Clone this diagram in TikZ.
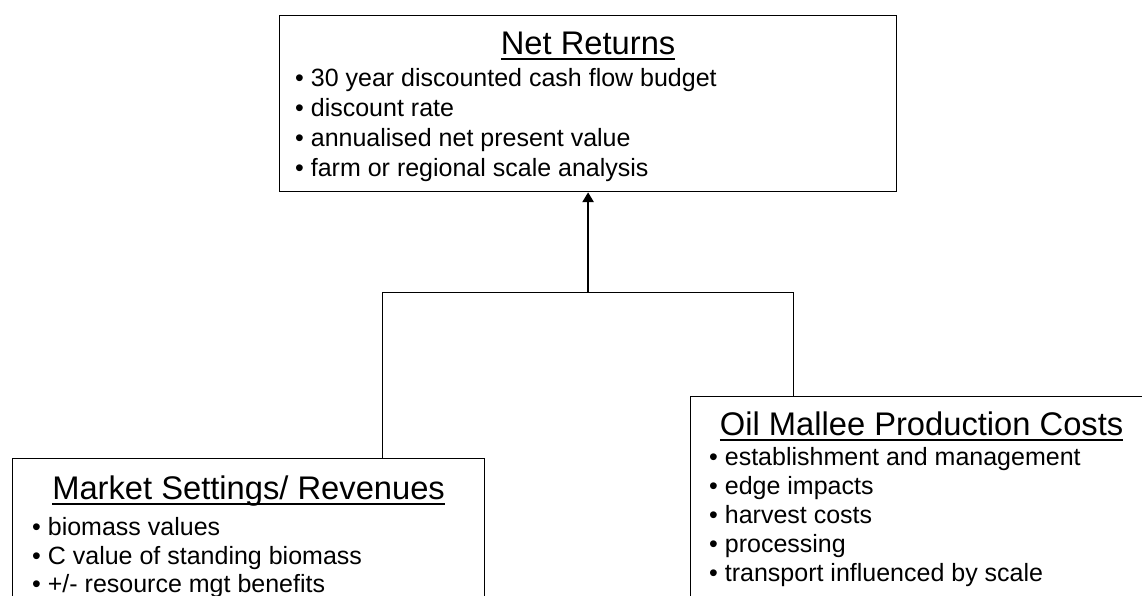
\documentclass[tikz,border=0pt]{standalone}
\usepackage{fontspec}
\setmainfont{Liberation Sans}
\usetikzlibrary{positioning,arrows.meta}

\newcommand{\ulhead}[1]{\setbox0\hbox{#1}\rlap{\rule[-5pt]{\wd0}{2pt}}\box0}

\begin{document}
\begin{tikzpicture}[x=1pt,y=1pt,
    panel/.style={draw,line width=1.2pt,rectangle,inner sep=0pt,anchor=north west},
    head/.style={anchor=base,inner sep=0pt,font=\fontsize{32.7}{39}\selectfont},
    item/.style={anchor=base west,inner sep=0pt,font=\fontsize{25}{30}\selectfont}]
   \useasboundingbox (0,0) rectangle (1142,596);
   \clip (0,0) rectangle (1142,596);
   \node [panel, minimum width=617pt, minimum height=176pt] (net) at (279,581) {};
   \node [panel, minimum width=472pt, minimum height=160pt] (market) at (12,138) {};
   \node [panel, minimum width=462pt, minimum height=220pt] (cost) at (690,200) {};
   \node [head] (netHead) at ([yshift=-40pt]net.north) {\ulhead{Net Returns}};
   \node [head] (marketHead) at ([yshift=-42pt]market.north) {\ulhead{Market Settings/ Revenues}};
   \node [head] (costHead) at ([yshift=-40pt]cost.north) {\ulhead{Oil Mallee Production Costs}};
   \foreach \txt [count=\i] in {30 year discounted cash flow budget, discount rate,
       annualised net present value, farm or regional scale analysis}
      \node [item] (net\i) at ([xshift=16pt,yshift=-42pt-30pt*\i]net.north west) {• \txt};
   \foreach \txt [count=\i] in {biomass values, C value of standing biomass,
       +/- resource mgt benefits}
      \node [item] (market\i) at ([xshift=20pt,yshift=-49.5pt-28.5pt*\i]market.north west) {• \txt};
   \foreach \txt [count=\i] in {establishment and management, edge impacts,
       harvest costs, processing, transport influenced by scale}
      \node [item] (cost\i) at ([xshift=19pt,yshift=-41pt-29pt*\i]cost.north west) {• \txt};
   \coordinate (forkL) at (382,303);
   \coordinate (forkR) at (793,303);
   \draw [line width=1pt] (forkL |- market.north) -- (forkL) -- (forkR) -- (forkR |- cost.north);
   \draw [line width=2.7pt, -{Triangle[width=11pt,length=10pt]}] (net.south |- forkL) -- (net.south);
\end{tikzpicture}
\end{document}
